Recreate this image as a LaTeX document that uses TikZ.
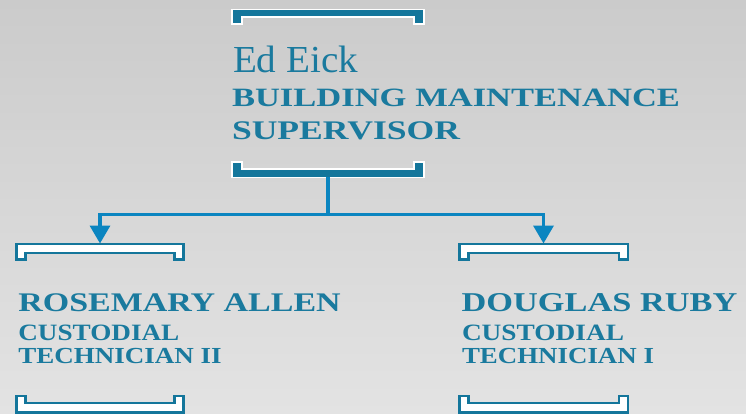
\documentclass[tikz,border=0pt]{standalone}
\usepackage{fontspec}
\setmainfont{Liberation Serif}
\usepackage{graphicx}
\usetikzlibrary{arrows.meta}
\definecolor{bgtop}{HTML}{CBCBCB}
\definecolor{bgbot}{HTML}{E3E3E3}
\definecolor{brk}{HTML}{14769B}
\definecolor{conn}{HTML}{0B85C0}
\definecolor{txt}{HTML}{1A7A9E}
\newcommand{\fitline}[3]{\resizebox{#1pt}{#2pt}{#3}}
\tikzset{
  label/.style={anchor=base west, inner sep=0pt, outer sep=0pt, text=txt},
  capsline/.style={label, font=\bfseries},
  solidbrk/.style={fill=brk, draw=white, line width=1.8pt, line join=miter},
  openbrk/.style={fill=white, draw=brk, line width=2.8pt, line join=miter},
  link/.style={draw=conn, line width=3.5pt},
  arrowlink/.style={link, -{Triangle[width=20pt,length=18pt]}},
}
\begin{document}
\begin{tikzpicture}[x=1pt,y=-1pt]
\shade[top color=bgtop, bottom color=bgbot] (0,0) rectangle (746,414);
\useasboundingbox (0,0) rectangle (746,414);

% top node brackets (solid)
\path[solidbrk] (232,9.5) -- (424,9.5) -- (424,24) -- (414,24) -- (414,17) -- (242,17) -- (242,24) -- (232,24) -- cycle;
\path[solidbrk] (232,177.5) -- (424,177.5) -- (424,162) -- (414,162) -- (414,169) -- (242,169) -- (242,162) -- (232,162) -- cycle;

% left child brackets (open)
\path[openbrk] (16.5,244) -- (183.5,244) -- (183.5,259.5) -- (174.5,259.5) -- (174.5,253) -- (25.5,253) -- (25.5,259.5) -- (16.5,259.5) -- cycle;
\path[openbrk] (16.5,412.5) -- (183.5,412.5) -- (183.5,396) -- (174.5,396) -- (174.5,403) -- (25.5,403) -- (25.5,396) -- (16.5,396) -- cycle;

% right child brackets (open)
\path[openbrk] (459.5,244) -- (628,244) -- (628,259.5) -- (619,259.5) -- (619,253) -- (468.5,253) -- (468.5,259.5) -- (459.5,259.5) -- cycle;
\path[openbrk] (459.5,412.5) -- (628,412.5) -- (628,396) -- (619,396) -- (619,403) -- (468.5,403) -- (468.5,396) -- (459.5,396) -- cycle;

% texts
\node[label] (ed) at (233,73) {\fitline{125}{26.5}{Ed Eick}};
\node[capsline] (edt1) at (232,106.7) {\fitline{448}{17.5}{BUILDING MAINTENANCE}};
\node[capsline] (edt2) at (232,139.3) {\fitline{228}{17.8}{SUPERVISOR}};

\node[capsline] (ra) at (18.3,311.7) {\fitline{322.4}{17.8}{ROSEMARY ALLEN}};
\node[capsline] (rat1) at (18.3,340.7) {\fitline{161}{15.5}{CUSTODIAL}};
\node[capsline] (rat2) at (18.3,363.3) {\fitline{203.4}{15.2}{TECHNICIAN II}};

\node[capsline] (dr) at (461.7,311.7) {\fitline{275.6}{18}{DOUGLAS RUBY}};
\node[capsline] (drt1) at (462,340.7) {\fitline{162}{15.5}{CUSTODIAL}};
\node[capsline] (drt2) at (462,363.3) {\fitline{192}{15.2}{TECHNICIAN I}};

% connectors
\coordinate (supbot) at (328,177.5);
\coordinate (split) at (328,214.5);
\coordinate (ratop) at (100,243.5);
\coordinate (drtop) at (543.5,243.5);
\draw[link] (supbot) -- (split);
\draw[arrowlink] (split) -| (ratop);
\draw[arrowlink] (split) -| (drtop);
\end{tikzpicture}
\end{document}
